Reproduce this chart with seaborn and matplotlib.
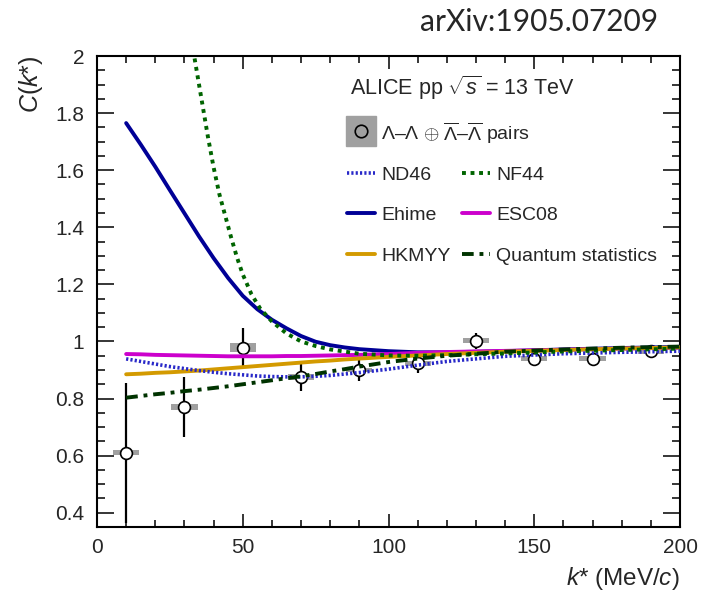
import numpy as np
import pandas as pd
import matplotlib
matplotlib.use("Agg")
import matplotlib.pyplot as plt
import seaborn as sns
from matplotlib.lines import Line2D
from matplotlib.legend_handler import HandlerTuple
from matplotlib.ticker import MultipleLocator

# ---------------- data ----------------
data_k = [10, 30, 50, 70, 90, 110, 130, 150, 170, 190]
data_C = [0.61, 0.77, 0.978, 0.875, 0.90, 0.923, 1.003, 0.94, 0.94, 0.965]
data_stat = [0.245, 0.105, 0.07, 0.05, 0.04, 0.033, 0.028, 0.012, 0.008, 0.008]
data_syst = [0.008, 0.011, 0.015, 0.010, 0.008, 0.008, 0.010, 0.008, 0.008, 0.008]

model_k = [10, 15, 20, 25, 30, 35, 40, 45, 50, 55, 60, 65, 70, 75, 80, 85, 90, 100,
           110, 120, 140, 160, 180, 200]
nd46 = [0.939, 0.93, 0.921, 0.912, 0.905, 0.898, 0.892, 0.887, 0.883, 0.879, 0.877,
        0.876, 0.876, 0.878, 0.881, 0.886, 0.891, 0.903, 0.917, 0.93, 0.948, 0.957,
        0.962, 0.966]
ehime = [1.765, 1.69, 1.612, 1.53, 1.449, 1.368, 1.292, 1.222, 1.16, 1.113, 1.076,
         1.046, 1.019, 0.999, 0.987, 0.979, 0.973, 0.966, 0.962, 0.962, 0.966, 0.972,
         0.977, 0.981]
esc08 = [0.956, 0.955, 0.953, 0.952, 0.951, 0.95, 0.949, 0.948, 0.948, 0.948, 0.948,
         0.949, 0.949, 0.95, 0.951, 0.952, 0.953, 0.956, 0.96, 0.963, 0.967, 0.971,
         0.975, 0.978]
hkmyy = [0.885, 0.887, 0.89, 0.892, 0.895, 0.898, 0.902, 0.906, 0.91, 0.914, 0.918,
         0.922, 0.926, 0.93, 0.933, 0.937, 0.94, 0.946, 0.951, 0.956, 0.964, 0.97,
         0.975, 0.979]
qstat = [0.803, 0.809, 0.815, 0.82, 0.826, 0.831, 0.837, 0.843, 0.85, 0.857, 0.864,
         0.871, 0.878, 0.886, 0.895, 0.903, 0.912, 0.928, 0.94, 0.95, 0.964, 0.972,
         0.978, 0.982]

nf44_k = [32, 33, 34, 36, 38, 40, 42, 44, 46, 48, 50, 53, 56, 60, 65, 70, 75, 80,
          90, 100, 110, 120, 140, 160, 180, 200]
nf44 = [2.08, 2.02, 1.96, 1.84, 1.72, 1.61, 1.515, 1.44, 1.365, 1.295, 1.235, 1.165,
        1.115, 1.07, 1.028, 1.0, 0.984, 0.972, 0.957, 0.951, 0.95, 0.952, 0.958,
        0.965, 0.97, 0.975]

# ---------------- style ----------------
sns.set_style("ticks")
plt.rcParams["font.family"] = ["Liberation Sans", "DejaVu Sans"]
plt.rcParams["mathtext.fontset"] = "custom"
plt.rcParams["mathtext.rm"] = "Liberation Sans"
plt.rcParams["mathtext.it"] = "Liberation Sans:italic"
plt.rcParams["mathtext.bf"] = "Liberation Sans:bold"

fig = plt.figure(figsize=(7.02, 5.95), dpi=100)
ax = fig.add_axes([97 / 702, 1 - 527 / 595, 583 / 702, 471 / 595])

# systematic boxes
ax.bar(data_k, [2 * s for s in data_syst], bottom=[c - s for c, s in zip(data_C, data_syst)],
       width=9, color="#a0a0a0", edgecolor="none", zorder=2)
# statistical errors + points
ax.errorbar(data_k, data_C, yerr=data_stat, fmt="o", color="black", ecolor="black",
            elinewidth=1.6, capsize=0, ms=8.5, mfc="white", mec="black", mew=1.2, zorder=3)

lw = 2.8
c_nd46, c_nf44, c_ehime = "#2828c8", "#006400", "#000096"
c_esc08, c_hkmyy, c_qs = "#cc00cc", "#d39a00", "#003300"
ls_nd46 = (0, (0.6, 0.6))
ls_nf44 = (0, (1, 1.2))
ls_qs = (0, (3, 1.5, 1, 1.5))

sns.lineplot(x=model_k, y=nd46, ax=ax, color=c_nd46, linewidth=2.6, linestyle=ls_nd46, zorder=5)
sns.lineplot(x=nf44_k, y=nf44, ax=ax, color=c_nf44, linewidth=lw, linestyle=ls_nf44, zorder=5)
sns.lineplot(x=model_k, y=ehime, ax=ax, color=c_ehime, linewidth=lw, zorder=4)
sns.lineplot(x=model_k, y=esc08, ax=ax, color=c_esc08, linewidth=lw, zorder=4)
sns.lineplot(x=model_k, y=hkmyy, ax=ax, color=c_hkmyy, linewidth=lw, zorder=4)
sns.lineplot(x=model_k, y=qstat, ax=ax, color=c_qs, linewidth=lw, linestyle=ls_qs, zorder=5)

ax.set_xlim(0, 200)
ax.set_ylim(0.35, 2.0)
ax.xaxis.set_major_locator(MultipleLocator(50))
ax.xaxis.set_minor_locator(MultipleLocator(10))
ax.yaxis.set_minor_locator(MultipleLocator(0.05))
ax.set_yticks([0.4, 0.6, 0.8, 1.0, 1.2, 1.4, 1.6, 1.8, 2.0])
ax.set_yticklabels(["0.4", "0.6", "0.8", "1", "1.2", "1.4", "1.6", "1.8", "2"])
ax.tick_params(which="both", direction="in", top=True, right=True, width=1.1,
               labelsize=15, color="black")
ax.tick_params(axis="y", which="major", length=12, pad=9)
ax.tick_params(axis="y", which="minor", length=6)
ax.tick_params(axis="x", which="major", length=9.5, pad=8)
ax.tick_params(axis="x", which="minor", length=5)
for sp in ax.spines.values():
    sp.set_linewidth(1.5)
    sp.set_color("black")

ax.set_xlabel(r"$k$* (MeV/$c$)", fontsize=17.5, loc="right")
ax.xaxis.set_label_coords(1.0, -0.08)
ax.set_ylabel(r"$C$($k$*)", fontsize=18, loc="top")
ax.yaxis.set_label_coords(-0.089, 1.0)

ax.text(0.434, 0.932, r"ALICE pp $\sqrt{s}$ = 13 TeV", transform=ax.transAxes,
        fontsize=15.5, va="center", ha="left")

# legends
data_handle = (Line2D([], [], marker="s", ls="none", mfc="#a0a0a0", mec="#a0a0a0", ms=21),
               Line2D([], [], marker="o", ls="none", mfc="none", mec="black", ms=9, mew=1.2))
leg1 = ax.legend([data_handle],
                 [r"$\Lambda$–$\Lambda$ $\oplus$ $\overline{\Lambda}$–$\overline{\Lambda}$ pairs"],
                 handler_map={tuple: HandlerTuple(ndivide=1, pad=0)},
                 loc="upper left", bbox_to_anchor=(0.4288, 0.864), frameon=False,
                 fontsize=14, borderpad=0, borderaxespad=0, handlelength=1.45,
                 handleheight=1.45, handletextpad=0.3)
ax.add_artist(leg1)


def lh(color, ls, lw_):
    return Line2D([], [], color=color, linestyle=ls, linewidth=lw_)


handles = [lh(c_nd46, ls_nd46, 2.6), lh(c_ehime, "-", lw), lh(c_hkmyy, "-", lw),
           lh(c_nf44, ls_nf44, lw), lh(c_esc08, "-", lw), lh(c_qs, ls_qs, lw)]
labels = ["ND46", "Ehime", "HKMYY", "NF44", "ESC08", "Quantum statistics"]
ax.legend(handles, labels, ncol=2, loc="upper left", bbox_to_anchor=(0.4288, 0.7665),
          frameon=False, fontsize=14, borderpad=0, borderaxespad=0, handlelength=1.45,
          handletextpad=0.3, columnspacing=0.6, labelspacing=1.18)

fig.text(539 / 702, 1 - 22 / 595, "arXiv:1905.07209", fontsize=21.5, family="Lato",
         ha="center", va="center")

fig.savefig("out.png", dpi=100)
